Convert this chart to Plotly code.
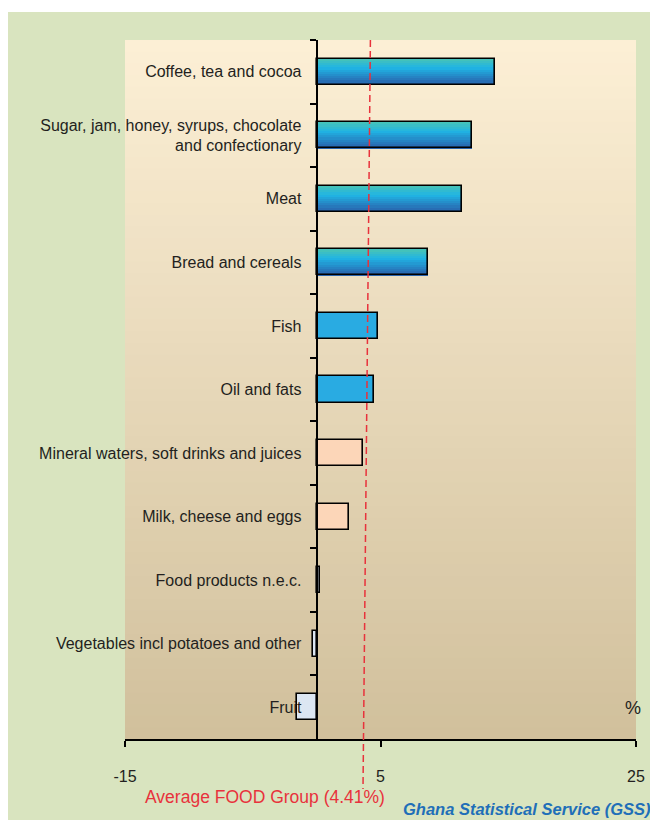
import plotly.graph_objects as go

# ---------------- data ----------------
categories = [
    "Coffee, tea and cocoa",
    "Sugar, jam, honey, syrups, chocolate<br>and confectionary",
    "Meat",
    "Bread and cereals",
    "Fish",
    "Oil and fats",
    "Mineral waters, soft drinks and juices",
    "Milk, cheese and eggs",
    "Food products n.e.c.",
    "Vegetables incl potatoes and other",
    "Fruit",
]
values = [14.0, 12.2, 11.4, 8.7, 4.8, 4.5, 3.6, 2.5, 0.25, -0.25, -1.5]
groups = ["grad", "grad", "grad", "grad", "blue", "blue", "peach", "peach", "pale", "pale", "pale"]
avg_food = 4.41
x_ticks = [-15, 5, 25]
x_range = [-15, 25]

# ---------------- styling / geometry (figure pixels; page has 8px body margin) ----------------
W, H = 650, 812
PL, PR, PT, PB = 117, 628, 32, 731   # plot-area edges
PW, PH = PR - PL, PB - PT
def px(x): return (x - PL) / PW        # figure px -> paper x
def py(y): return (PB - y) / PH        # figure px -> paper y

FONT = "Liberation Sans, Arial, sans-serif"
TXT = "#231F20"
BAR_W = 0.41
flat_colors = {"blue": "#29ABE2", "peach": "#FCD6B8", "pale": "#DCE6F2", "grad": "rgba(0,0,0,0)"}

def lerp(c1, c2, t):
    return tuple(round(a + (b - a) * t) for a, b in zip(c1, c2))

fig = go.Figure()

# gradient bars drawn as horizontal stripes
n_str = 12
top_c, mid_c, bot_c = (72, 196, 182), (32, 180, 228), (42, 92, 168)
gx = [v if g == "grad" else None for v, g in zip(values, groups)]
for i in range(n_str):
    t = (i + 0.5) / n_str
    if t < 0.35:
        c = lerp(top_c, mid_c, t / 0.35)
    else:
        c = lerp(mid_c, bot_c, (t - 0.35) / 0.65)
    fig.add_trace(go.Bar(
        y=categories, x=gx, orientation="h",
        width=BAR_W / n_str + 0.003, offset=-BAR_W / 2 + i * BAR_W / n_str,
        marker=dict(color="rgb(%d,%d,%d)" % c, line=dict(width=0)),
        showlegend=False, hoverinfo="skip"))

# outlines + flat coloured bars
fig.add_trace(go.Bar(
    y=categories, x=values, orientation="h",
    width=BAR_W, offset=-BAR_W / 2,
    marker=dict(color=[flat_colors[g] for g in groups],
                line=dict(color="black", width=1.6)),
    showlegend=False))

# background: green canvas + gradient plot area
shapes = [dict(type="rect", xref="paper", yref="paper",
               x0=px(0), x1=px(W + 5), y0=py(H + 5), y1=py(4),
               fillcolor="#D9E4BF", line=dict(width=0), layer="below")]
n_bg = 60
for i in range(n_bg):
    t = i / (n_bg - 1)
    c = lerp((252, 239, 213), (209, 192, 156), t)
    shapes.append(dict(type="rect", xref="paper", yref="paper",
                       x0=0, x1=1, y0=1 - (i + 1) / n_bg - 0.002, y1=1 - i / n_bg,
                       fillcolor="rgb(%d,%d,%d)" % c, line=dict(width=0), layer="below"))
# average line (slightly leaning, as in the source)
shapes.append(dict(type="line", xref="x", yref="paper",
                   x0=avg_food - 0.2, x1=avg_food - 0.78, y0=1, y1=py(781),
                   line=dict(color="#E8323C", width=1.5, dash="7px,4px"), layer="above"))

fig.update_layout(
    width=W, height=H, autosize=False,
    margin=dict(l=PL, r=W - PR, t=PT, b=H - PB),
    paper_bgcolor="white", plot_bgcolor="rgba(0,0,0,0)",
    barmode="overlay", bargap=0,
    shapes=shapes,
    font=dict(family=FONT, color=TXT, size=16),
    xaxis=dict(range=x_range, tickvals=x_ticks, ticktext=[str(v) for v in x_ticks],
               showgrid=False, zeroline=False, showline=True, linecolor="black", linewidth=2,
               ticks="outside", ticklen=6, tickwidth=1.5, tickcolor="black",
               ticklabelstandoff=16, tickfont=dict(size=16, color=TXT, family=FONT)),
    yaxis=dict(type="category", categoryorder="array", categoryarray=categories,
               range=[len(categories) - 0.5, -0.5],
               anchor="free", position=(0 - x_range[0]) / (x_range[1] - x_range[0]),
               showgrid=False, zeroline=False, showline=True, linecolor="black", linewidth=2,
               ticks="outside", tickson="boundaries", ticklen=6, tickwidth=1.5, tickcolor="black",
               ticklabelstandoff=11, tickfont=dict(size=16, color=TXT, family=FONT)),
    annotations=[
        dict(text="%", xref="paper", yref="paper", x=1, y=py(700), xshift=7,
             xanchor="right", yanchor="middle", showarrow=False,
             font=dict(size=18, color=TXT, family=FONT)),
        dict(text="Average FOOD Group (4.41%)", xref="paper", yref="paper",
             x=px(257), y=py(789), xanchor="center", yanchor="middle",
             showarrow=False, font=dict(size=17.5, color="#E8323C", family=FONT)),
        dict(text="<b><i>Ghana Statistical Service (GSS)</i></b>", xref="paper", yref="paper",
             x=px(W - 5), y=py(801), xanchor="right", yanchor="middle",
             showarrow=False, font=dict(size=16.5, color="#1F6FB8", family=FONT)),
    ],
)

fig.write_html("out.html")
